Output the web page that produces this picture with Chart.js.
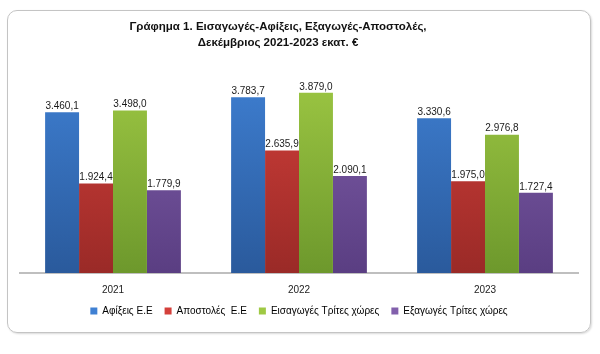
<!DOCTYPE html>
<html>
<head>
<meta charset="utf-8">
<script src="https://cdn.jsdelivr.net/npm/chart.js@4/dist/chart.umd.min.js"></script>
<style>
  body { margin: 0; background: #fff; }
  .card {
    position: absolute; left: 7px; top: 10px; width: 584px; height: 323px;
    border: 1px solid #c4c4c4; border-radius: 10px; box-sizing: border-box;
    box-shadow: 1px 1px 2px rgba(0,0,0,0.15);
  }
  .card canvas { position: absolute; left: 0; top: 0; }
</style>
</head>
<body>
<div class="card"><canvas id="chart" width="582" height="321"></canvas></div>
<script>
var titleLines = ['Γράφημα 1. Εισαγωγές-Αφίξεις, Εξαγωγές-Αποστολές,', 'Δεκέμβριος 2021-2023 εκατ. €'];
var years = ['2021', '2022', '2023'];
var seriesNames = ['Αφίξεις Ε.Ε', 'Αποστολές  Ε.Ε', 'Εισαγωγές Τρίτες χώρες', 'Εξαγωγές Τρίτες χώρες'];
var arrivalsEU = [3460.1, 3783.7, 3330.6];
var dispatchesEU = [1924.4, 2635.9, 1975.0];
var importsThird = [3498.0, 3879.0, 2976.8];
var exportsThird = [1779.9, 2090.1, 1727.4];

var FONT = '"Liberation Sans", Arial, sans-serif';

// top / bottom colour of each bar gradient
var shades = [
  ['#3f80d3', '#2a5a9c'],
  ['#d4403b', '#9a2a27'],
  ['#9fc944', '#6d982c'],
  ['#8260ac', '#5a3e82']
];

function gradientFor(i) {
  return function(ctx) {
    var area = ctx.chart.chartArea;
    if (!area) return shades[i][0];
    var g = ctx.chart.ctx.createLinearGradient(0, area.top, 0, area.bottom);
    g.addColorStop(0, shades[i][0]);
    g.addColorStop(1, shades[i][1]);
    return g;
  };
}

function fmt(v) {
  var parts = v.toFixed(1).split('.');
  var whole = parts[0].replace(/\B(?=(\d{3})+(?!\d))/g, '.');
  return whole + ',' + parts[1];
}

// two-line title, sits a bit left of centre like the original
var titlePlugin = {
  id: 'titleText',
  afterDraw: function(chart) {
    var c = chart.ctx;
    c.save();
    c.font = 'bold 11.5px ' + FONT;
    c.fillStyle = '#111';
    c.textAlign = 'center';
    c.textBaseline = 'middle';
    var cx = chart.width / 2 - 21;
    c.fillText(titleLines[0], cx, 16);
    c.fillText(titleLines[1], cx, 32);
    c.restore();
  }
};

// value labels above each bar
var valueLabels = {
  id: 'valueLabels',
  afterDatasetsDraw: function(chart) {
    var c = chart.ctx;
    c.save();
    c.font = '10px ' + FONT;
    c.fillStyle = '#1a1a1a';
    c.textAlign = 'center';
    c.textBaseline = 'bottom';
    chart.data.datasets.forEach(function(ds, di) {
      chart.getDatasetMeta(di).data.forEach(function(bar, j) {
        c.fillText(fmt(ds.data[j]), bar.x, bar.y - 1);
      });
    });
    c.restore();
  }
};

var allSeries = [arrivalsEU, dispatchesEU, importsThird, exportsThird];

new Chart(document.getElementById('chart'), {
  type: 'bar',
  data: {
    labels: years,
    datasets: allSeries.map(function(vals, i) {
      return {
        label: seriesNames[i],
        data: vals,
        backgroundColor: gradientFor(i),
        borderWidth: 0,
        categoryPercentage: 0.73,
        barPercentage: 1.0
      };
    })
  },
  options: {
    responsive: false,
    animation: false,
    layout: { padding: { left: 12, right: 12, top: 53, bottom: 14 } },
    plugins: {
      title: { display: false },
      legend: {
        position: 'bottom',
        maxHeight: 24,
        labels: {
          boxWidth: 7, boxHeight: 7, padding: 12, color: '#222',
          font: { family: FONT, size: 10 },
          generateLabels: function(chart) {
            return chart.data.datasets.map(function(ds, i) {
              return { text: ds.label, fillStyle: shades[i][0], strokeStyle: shades[i][0], lineWidth: 0, datasetIndex: i };
            });
          }
        }
      },
      tooltip: { enabled: false }
    },
    scales: {
      x: {
        grid: { display: false, drawTicks: false },
        border: { display: true, color: '#bfbfbf', width: 2 },
        ticks: { color: '#222', padding: 11, font: { family: FONT, size: 10 } },
        afterFit: function(scale) { scale.height = 21; }
      },
      y: {
        display: false,
        min: 0,
        max: 4500
      }
    }
  },
  plugins: [valueLabels, titlePlugin]
});
</script>
</body>
</html>
